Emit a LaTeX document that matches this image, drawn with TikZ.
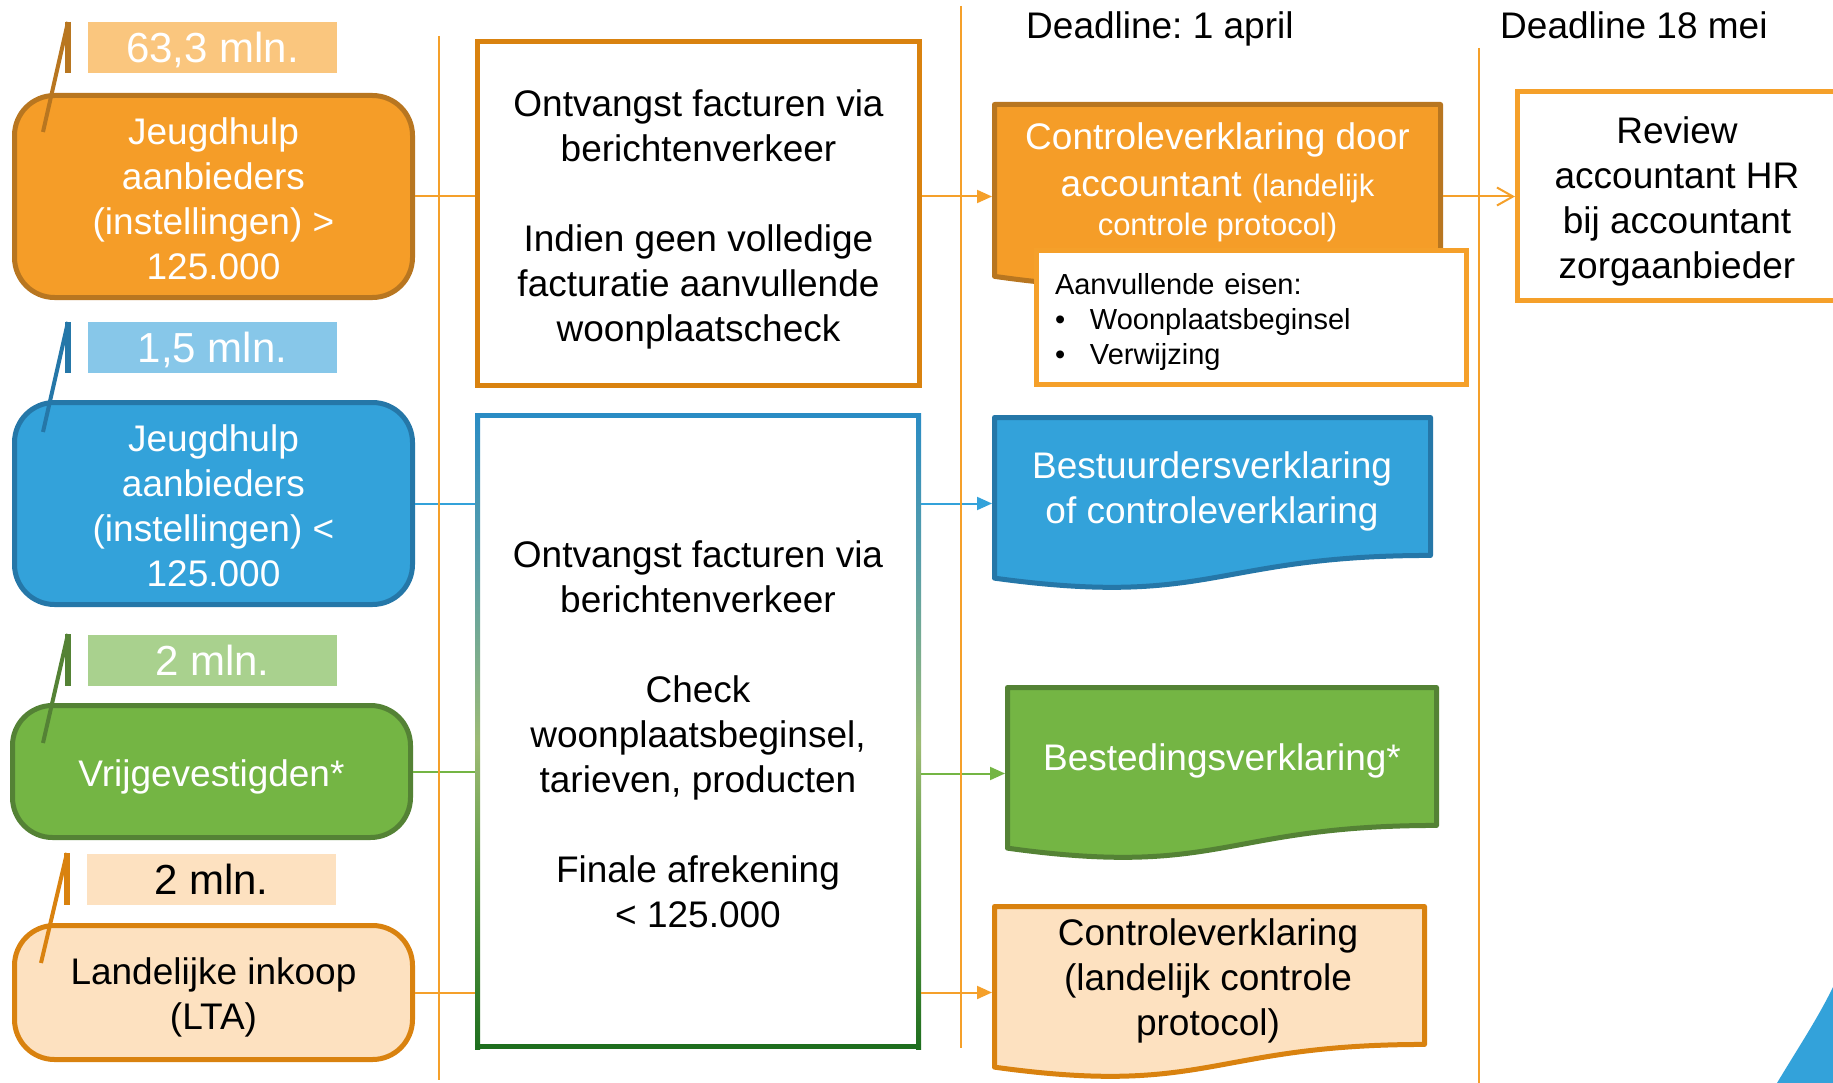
\documentclass[tikz,border=0pt]{standalone}
\usepackage{fontspec}
\setmainfont{Liberation Sans}
\usetikzlibrary{arrows.meta,calc}
\definecolor{orF}{HTML}{F59D28}
\definecolor{orD}{HTML}{B87620}
\definecolor{orT}{HTML}{FAC67E}
\definecolor{orL}{HTML}{F5A02A}
\definecolor{orB}{HTML}{D9820F}
\definecolor{blF}{HTML}{33A2DA}
\definecolor{blD}{HTML}{2577A8}
\definecolor{blT}{HTML}{87C7E9}
\definecolor{grF}{HTML}{74B544}
\definecolor{grD}{HTML}{548235}
\definecolor{grT}{HTML}{A9D18E}
\definecolor{peF}{HTML}{FDE1C0}
\definecolor{gSa}{HTML}{2A8CC4}
\definecolor{gSb}{HTML}{5A9FA8}
\definecolor{gSc}{HTML}{9DBB74}
\definecolor{gSd}{HTML}{5E9A45}
\definecolor{gSe}{HTML}{1E6E1E}
\pgfdeclareverticalshading{frameshade}{100bp}{color(0bp)=(gSe); color(25bp)=(gSe); color(38bp)=(gSd); color(49bp)=(gSc); color(63bp)=(gSb); color(75bp)=(gSa); color(100bp)=(gSa)}
\newcommand\bigtxt{\fontsize{37}{45}\selectfont}
\newcommand\tagtxt{\fontsize{42}{50}\selectfont}
\newcommand\smalltxt{\fontsize{31}{38}\selectfont}
\newcommand\insettxt{\fontsize{29}{35}\selectfont}
\newcommand\lift[1]{\rule{0pt}{#1}}
\frenchspacing
\begin{document}
\begin{tikzpicture}[x=1pt,y=-1pt,
  lbox/.style={rounded corners=40pt, line width=5pt, minimum width=398pt, inner sep=0pt, align=center, font=\bigtxt},
  tagbox/.style={minimum width=249pt, minimum height=51pt, inner sep=0pt, text height=30pt, text depth=0pt, font=\tagtxt},
  mbox/.style={line width=5pt, fill=white, inner sep=0pt, align=center, font=\bigtxt},
  docnode/.style={inner sep=0pt, outer sep=0pt, draw=none},
  docshape/.style={line width=5pt, line join=round},
  doctext/.style={align=center, font=\bigtxt, inner sep=0pt},
  link/.style={line width=2pt},
  arr/.style={line width=2pt, -{Triangle[length=15pt,width=13pt]}, shorten >=2.5pt},
  tline/.style={orL, line width=2pt},
  bar/.style={line width=6pt},
  lead/.style={line width=4pt}]
\useasboundingbox (0,0) rectangle (1833,1083);
\clip (0,0) rectangle (1833,1083);
\fill[white] (0,0) rectangle (1833,1083);
% corner decoration
\fill[blF] (1777,1083) .. controls (1798,1048) and (1818,1018) .. (1833,987) -- (1833,1083) -- cycle;

% left boxes
\node[lbox, fill=orF, draw=orD, minimum height=202pt, text=white] (b1) at (213.5,196.5) {\lift{31pt}Jeugdhulp\\aanbieders\\(instellingen) >\\125.000};
\node[lbox, fill=blF, draw=blD, minimum height=202pt, text=white] (b2) at (213.5,503.5) {\lift{31pt}Jeugdhulp\\aanbieders\\(instellingen) <\\125.000};
\node[lbox, fill=grF, draw=grD, minimum height=132pt, text=white] (b3) at (211.5,771.5) {\lift{37pt}Vrijgevestigden*};
\node[lbox, fill=peF, draw=orB, minimum height=134pt] (b4) at (213.5,992.5) {\lift{37pt}Landelijke inkoop\\(LTA)};

% tags
\node[tagbox, fill=orT, text=white] (g1) at (212.5,47.5) {63,3 mln.};
\coordinate (g1top) at (68,22); \coordinate (g1bot) at (68,73); \coordinate (g1end) at (43,132);
\draw[bar, orD] (g1top) -- (g1bot);
\draw[lead, orD] (g1top) -- (g1end);
\node[tagbox, fill=blT, text=white] (g2) at (212.5,347.5) {1,5 mln.};
\coordinate (g2top) at (68,322); \coordinate (g2bot) at (68,373); \coordinate (g2end) at (43,432);
\draw[bar, blD] (g2top) -- (g2bot);
\draw[lead, blD] (g2top) -- (g2end);
\node[tagbox, fill=grT, text=white] (g3) at (212.5,660) {2 mln.};
\coordinate (g3top) at (68,634); \coordinate (g3bot) at (68,686); \coordinate (g3end) at (43,743);
\draw[bar, grD] (g3top) -- (g3bot);
\draw[lead, grD] (g3top) -- (g3end);
\node[tagbox, fill=peF] (g4) at (211.5,879) {2 mln.};
\coordinate (g4top) at (67,853); \coordinate (g4bot) at (67,905); \coordinate (g4end) at (41,963);
\draw[bar, orB] (g4top) -- (g4bot);
\draw[lead, orB] (g4top) -- (g4end);

% middle boxes
\node[mbox, draw=orB, minimum width=442pt, minimum height=344pt] (m1) at (698.5,213.5) {\lift{39pt}Ontvangst facturen via\\berichtenverkeer\\[45pt]Indien geen volledige\\facturatie aanvullende\\woonplaatscheck};
\fill[white] (475,413) rectangle (921,1049);
\shade[shading=frameshade] (475,413) rectangle (480,1049);
\shade[shading=frameshade] (916,413) rectangle (921,1049);
\fill[gSa] (475,413) rectangle (921,418);
\fill[gSe] (475,1044) rectangle (921,1049);
\node[inner sep=0pt, outer sep=2.5pt, align=center, font=\bigtxt, minimum width=441pt, minimum height=631pt] (m2) at (698,731) {\lift{34pt}Ontvangst facturen via\\berichtenverkeer\\[45pt]Check\\woonplaatsbeginsel,\\tarieven, producten\\[45pt]Finale afrekening\\< 125.000};

% document shapes
\node[docnode, minimum width=446pt, minimum height=184pt] (d1) at (1217.5,196.5) {};
\path[docshape, fill=orF, draw=orD] (d1.north west) -- (d1.north east) -- ($(d1.north east)!0.802!(d1.south east)$) .. controls ($(d1.north)!0.802!(d1.south)$) and ($(d1.north)!1.1075!(d1.south)$) .. ($(d1.north west)!0.934!(d1.south west)$) -- cycle;
\node[doctext, text=white] (d1t) at (1217.5,182) {Controleverklaring door\\[2pt]accountant {\smalltxt(landelijk}\\[-6pt]{\smalltxt controle protocol)}};

\node[docnode, minimum width=436pt, minimum height=172pt] (d2) at (1212.5,503.5) {};
\path[docshape, fill=blF, draw=blD] (d2.north west) -- (d2.north east) -- ($(d2.north east)!0.802!(d2.south east)$) .. controls ($(d2.north)!0.802!(d2.south)$) and ($(d2.north)!1.1075!(d2.south)$) .. ($(d2.north west)!0.934!(d2.south west)$) -- cycle;
\node[doctext, text=white] (d2t) at (1212,491.5) {Bestuurdersverklaring\\of controleverklaring};

\node[docnode, minimum width=429pt, minimum height=172pt] (d3) at (1222,773.5) {};
\path[docshape, fill=grF, draw=grD] (d3.north west) -- (d3.north east) -- ($(d3.north east)!0.802!(d3.south east)$) .. controls ($(d3.north)!0.802!(d3.south)$) and ($(d3.north)!1.1075!(d3.south)$) .. ($(d3.north west)!0.934!(d3.south west)$) -- cycle;
\node[doctext, text=white] (d3t) at (1222,760.5) {Bestedingsverklaring*};

\node[docnode, minimum width=430pt, minimum height=172pt] (d4) at (1209.5,992.5) {};
\path[docshape, fill=peF, draw=orB] (d4.north west) -- (d4.north east) -- ($(d4.north east)!0.802!(d4.south east)$) .. controls ($(d4.north)!0.802!(d4.south)$) and ($(d4.north)!1.1075!(d4.south)$) .. ($(d4.north west)!0.934!(d4.south west)$) -- cycle;
\node[doctext] (d4t) at (1208,981) {Controleverklaring\\(landelijk controle\\protocol)};

% inset
\node[draw=orL, line width=5pt, fill=white, minimum width=430pt, minimum height=134pt, text width=393pt, inner xsep=18.5pt, inner ysep=0pt, align=left, font=\insettxt] (ins) at (1251.5,317.5) {\lift{30pt}Aanvullende eisen:\\\makebox[35pt][l]{•}Woonplaatsbeginsel\\\makebox[35pt][l]{•}Verwijzing};

% review
\node[mbox, draw=orL, minimum width=319pt, minimum height=209pt] (rev) at (1677,196) {\lift{37pt}Review\\accountant HR\\bij accountant\\zorgaanbieder};

% deadlines
\node[anchor=base west, font=\bigtxt, inner sep=0pt] (dl1) at (1026,39) {Deadline: 1 april};
\node[anchor=base west, font=\bigtxt, inner sep=0pt] (dl2) at (1500,39) {Deadline 18 mei};

% connectors
\draw[link, orL] (b1.east) -- (b1.east -| m1.west);
\draw[link, blF] (b2.east) -- (b2.east -| m2.west);
\draw[link, grF] (b3.east) -- (b3.east -| m2.west);
\draw[link, orL] (b4.east) -- (b4.east -| m2.west);
\draw[arr, orL] (m1.east |- d1.west) -- (d1.west);
\draw[arr, blF] (m2.east |- d2.west) -- (d2.west);
\draw[arr, grF] (m2.east |- d3.west) -- (d3.west);
\draw[arr, orL] (m2.east |- d4.west) -- (d4.west);
\draw[link, orL, shorten <=2.5pt, -{Straight Barb[length=16pt,width=18pt]}] (d1.east) -- (d1.east -| rev.west);

% timelines
\coordinate (t1a) at (439,36); \coordinate (t1b) at (439,1080);
\coordinate (t2a) at (961,6); \coordinate (t2b) at (961,1048);
\coordinate (t3a) at (1479,48); \coordinate (t3b) at (1479,1083);
\draw[tline] (t1a) -- (t1b);
\draw[tline] (t2a) -- (t2b);
\draw[tline] (t3a) -- (t3b);
\end{tikzpicture}
\end{document}
